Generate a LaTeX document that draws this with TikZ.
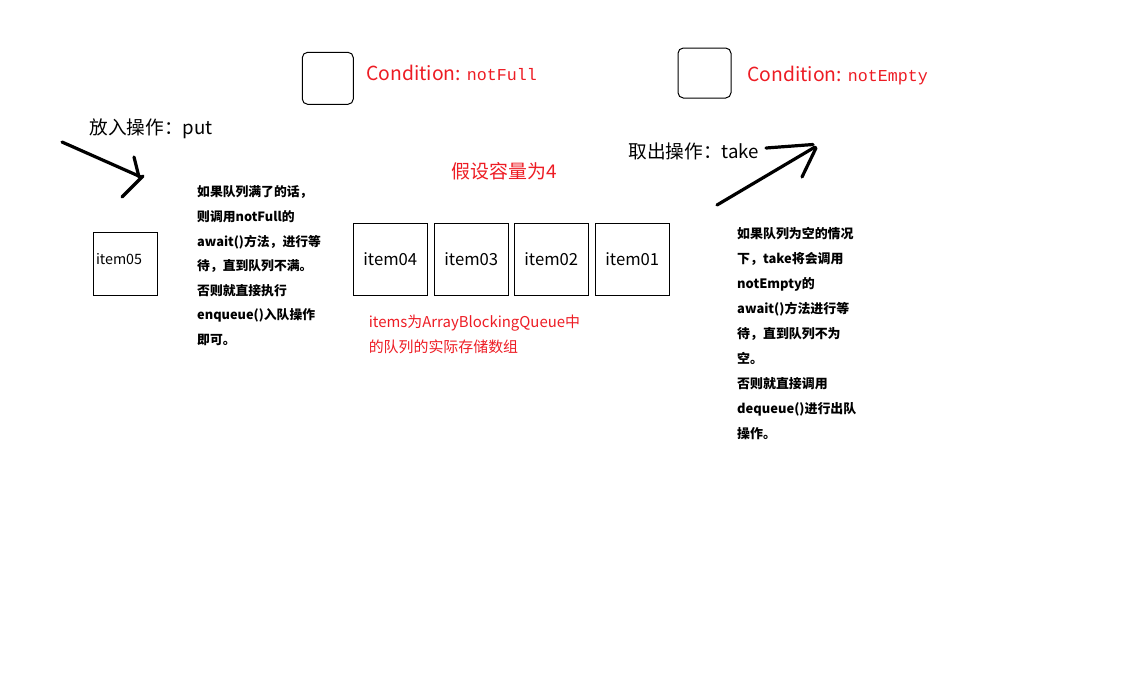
\documentclass[tikz,border=0pt]{standalone}
\usepackage{fontspec}
\setmainfont{Noto Sans CJK SC}
\newfontfamily\codefont{Liberation Mono}
\usetikzlibrary{positioning}
\definecolor{notered}{RGB}{237,28,36}

\tikzset{every picture/.style={line width=0.75pt}}

\begin{document}
\begin{tikzpicture}[x=0.75pt,y=0.75pt,yscale=-1,xscale=1,
  condbox/.style={draw, rounded corners=4pt, inner sep=0pt},
  itembox/.style={draw, minimum width=55.5pt, minimum height=54pt, inner sep=0pt, font=\fontsize{12.5}{15}\selectfont},
  handarrow/.style={line width=2.4pt, line cap=round, line join=round},
  notetext/.style={anchor=north west, inner sep=0pt, align=left, font=\bfseries\fontsize{9.6}{18.4}\selectfont}]
\useasboundingbox (0,0) rectangle (1125,676);

%Shape: Rounded Rect
\node [condbox, minimum width=38.25pt, minimum height=39pt] (fullbox) at (327.8,78.3) {};
%Shape: Rounded Rect
\node [condbox, minimum width=39.75pt, minimum height=37.5pt] (emptybox) at (704.5,73) {};

% Text Node
\draw (366,73.3) node (fulllabel) [anchor=west] [inner sep=0pt] [color=notered] {\fontsize{14.5}{17}\selectfont Condition: {\codefont\fontsize{12.5}{15}\selectfont notFull}};
% Text Node
\draw (747,76) node (emptylabel) [anchor=west] [inner sep=0pt] [color=notered] {\fontsize{14.5}{17}\selectfont Condition: {\codefont\fontsize{12.5}{15}\selectfont notEmpty}};

% Text Node
\draw (89,128.3) node (putlabel) [anchor=west] [inner sep=0pt] {\fontsize{14}{17}\selectfont 放入操作：put};
% Text Node
\draw (628,151.7) node (takelabel) [anchor=west] [inner sep=0pt] {\fontsize{14}{17}\selectfont 取出操作：take};
% Text Node
\draw (451,171.7) node (sizelabel) [anchor=west] [inner sep=0pt] [color=notered] {\fontsize{14.2}{17}\selectfont 假设容量为4};

%Straight Lines
\coordinate (putfrom) at (62,142);
\coordinate (putto) at (141,177);
\draw [handarrow] (putfrom) -- (putto);
\draw [handarrow] (134,157) -- (139,177) ;
\draw [handarrow] (143,176) -- (122,197) ;
%Straight Lines
\coordinate (takefrom) at (717,205);
\coordinate (taketo) at (815,147);
\draw [handarrow] (takefrom) -- (taketo);
\draw [handarrow] (766,148) -- (813,144.5) ;
\draw [handarrow] (816,148) -- (802,177) ;

%Shape: Rectangle
\node [draw, minimum width=48.3pt, minimum height=47pt, inner sep=0pt] (item05) at (125.5,263.7) {};
\draw (95.5,259.3) node (item05text) [anchor=west] [inner sep=0pt] {\fontsize{10.7}{13}\selectfont item05};

%Shape: Rectangle
\node [itembox] (item04) at (390.3,259.3) {item04};
\node [itembox, right=4.5pt of item04] (item03) {item03};
\node [itembox, right=3.75pt of item03] (item02) {item02};
\node [itembox, right=4.5pt of item02] (item01) {item01};

% Text Node
\draw (196.7,185.5) node (putnote) [notetext] {如果队列满了的话，\\则调用notFull的\\await()方法，进行等\\待，直到队列不满。\\否则就直接执行\\enqueue()入队操作\\即可。};
% Text Node
\draw (736.7,226.5) node (takenote) [notetext, font=\bfseries\fontsize{9.7}{18.75}\selectfont] {如果队列为空的情况\\下，take将会调用\\notEmpty的\\await()方法进行等\\待，直到队列不为\\空。\\否则就直接调用\\dequeue()进行出队\\操作。};
% Text Node
\draw (368.3,314.5) node (itemsnote) [anchor=north west] [inner sep=0pt] [align=left] [color=notered] [font=\fontsize{11.2}{19}\selectfont] {items为ArrayBlockingQueue中\\的队列的实际存储数组};

\end{tikzpicture}
\end{document}
